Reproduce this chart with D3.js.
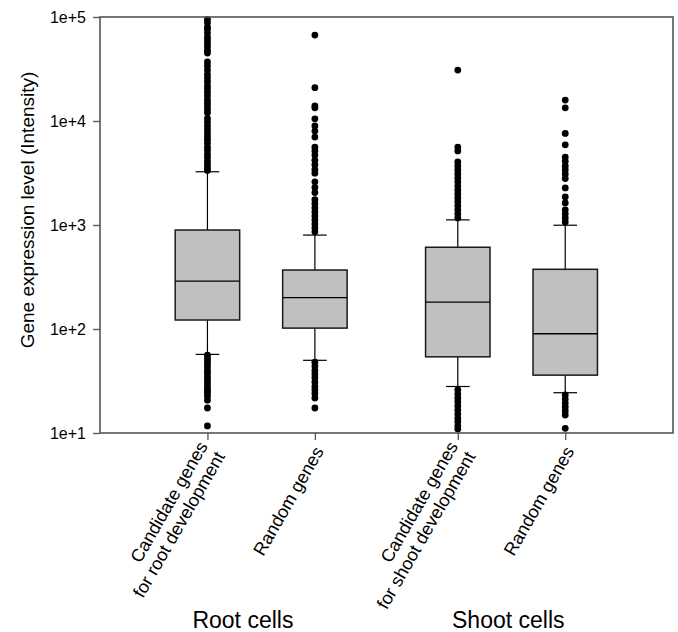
<!DOCTYPE html>
<html>
<head>
<meta charset="utf-8">
<script src="https://cdn.jsdelivr.net/npm/d3@7"></script>
<style>
  body { margin: 0; background: #fff; }
  text { font-family: Arial, "Liberation Sans", sans-serif; }
</style>
</head>
<body>
<div class="app"></div>
<script>
// Data
const categories = [
  ["Candidate genes", "for root development"],
  ["Random genes"],
  ["Candidate genes", "for shoot development"],
  ["Random genes"]
];
const positions = [1, 2, 3.33, 4.33];
const groups = ["Root cells", "Shoot cells"];
const groupX = [1.33, 3.8];
const tickValues = [1e1, 1e2, 1e3, 1e4, 1e5];

const q1 = [122, 102, 54, 36];
const medians = [289, 200, 181, 90];
const q3 = [895, 369, 611, 375];
const whiskerLow = [57, 50, 28, 24.4];
const whiskerHigh = [3250, 800, 1120, 995];

const outliersRootCand = [95000, 88000, 80000, 76000, 70000, 64000, 60000, 56000, 52000, 48000, 45000,
  37000, 34000, 31000, 28000, 26000, 24000, 22000, 20500, 19000, 17500, 16000, 15000, 14000, 13000, 12000,
  10600, 9800, 9000, 8300, 7700, 7100, 6600, 6100, 5600, 5200, 4800, 4450, 4100, 3800, 3550, 3350,
  56, 52, 49, 46, 43, 40, 37.5, 35, 33, 31, 29, 27, 25.5, 24, 22.5, 20.7, 17.4, 11.7];
const outliersRootRand = [67000, 20900, 14000, 13400, 10500, 8950, 8000, 7000, 5600, 5150, 4700, 4200,
  3800, 3400, 3150, 2600, 2300, 2050, 1750, 1600, 1460, 1330, 1220, 1120, 1020, 935, 860,
  48, 44, 40, 37, 34, 31, 28, 26, 24, 21.7, 17.4];
const outliersShootCand = [30900, 5620, 5150, 4040, 3700, 3380, 3100, 2830, 2600, 2370, 2170, 1990,
  1820, 1670, 1530, 1400, 1280, 1170,
  26, 23.7, 21.7, 20, 18.2, 16.6, 15.2, 13.9, 12.8, 11.7, 10.9];
const outliersShootRand = [15900, 13400, 7600, 5900, 4500, 4100, 3700, 3400, 3100, 2800, 2270, 1860,
  1630, 1400, 1280, 1170, 1070,
  23.2, 21.2, 19.4, 17.8, 16.3, 14.9, 11.1];
const outliers = [outliersRootCand, outliersRootRand, outliersShootCand, outliersShootRand];

// Setup
const width = 678, height = 632;
const svg = d3.select('.app')
  .append('svg')
  .attr('width', width)
  .attr('height', height);

const x = d3.scaleLinear().domain([0, 5.333]).range([100, 673]);
const y = d3.scaleLog().domain([10, 1e5]).range([433, 17]).clamp(true);

const boxW = x(0.3) - x(0);
const capW = x(0.11) - x(0);

const boxes = positions.map((p, i) => ({
  p, q1: q1[i], med: medians[i], q3: q3[i], lo: whiskerLow[i], hi: whiskerHigh[i], out: outliers[i]
}));

const g = svg.append('g');

// whiskers
const wg = g.append('g').attr('stroke', '#000').attr('stroke-width', 1.2);
boxes.forEach(b => {
  const cx = x(b.p);
  wg.append('line').attr('x1', cx).attr('x2', cx).attr('y1', y(b.q3)).attr('y2', y(b.hi));
  wg.append('line').attr('x1', cx).attr('x2', cx).attr('y1', y(b.q1)).attr('y2', y(b.lo));
  wg.append('line').attr('x1', cx - capW).attr('x2', cx + capW).attr('y1', y(b.hi)).attr('y2', y(b.hi));
  wg.append('line').attr('x1', cx - capW).attr('x2', cx + capW).attr('y1', y(b.lo)).attr('y2', y(b.lo));
});

// outlier points
boxes.forEach(b => {
  g.append('g')
    .selectAll('circle')
    .data(b.out)
    .join('circle')
    .attr('cx', x(b.p))
    .attr('cy', d => y(d))
    .attr('r', 3.4)
    .attr('fill', '#000');
});

// boxes
g.append('g')
  .selectAll('rect')
  .data(boxes)
  .join('rect')
  .attr('x', d => x(d.p) - boxW)
  .attr('width', boxW * 2)
  .attr('y', d => y(d.q3))
  .attr('height', d => y(d.q1) - y(d.q3))
  .attr('fill', '#c0c0c0')
  .attr('stroke', '#1a1a1a')
  .attr('stroke-width', 1.5);

g.append('g')
  .selectAll('line')
  .data(boxes)
  .join('line')
  .attr('x1', d => x(d.p) - boxW)
  .attr('x2', d => x(d.p) + boxW)
  .attr('y1', d => y(d.med))
  .attr('y2', d => y(d.med))
  .attr('stroke', '#000')
  .attr('stroke-width', 1.3);

// frame
svg.append('rect')
  .attr('x', x(0)).attr('y', y(1e5))
  .attr('width', x(5.333) - x(0))
  .attr('height', y(10) - y(1e5))
  .attr('fill', 'none')
  .attr('stroke', '#555')
  .attr('stroke-width', 1.6);

// y axis
const yAxis = svg.append('g')
  .attr('transform', `translate(${x(0)},0)`)
  .call(d3.axisLeft(y).tickValues(tickValues).tickSize(7).tickPadding(7)
    .tickFormat(d => `1e+${Math.round(Math.log10(d))}`));
yAxis.select('.domain').remove();
yAxis.selectAll('line').attr('stroke', '#555').attr('stroke-width', 1.3);
yAxis.selectAll('text').attr('font-size', 16).attr('fill', '#000')
  .style('font-family', 'Arial, "Liberation Sans", sans-serif');

// x axis
const xAxis = svg.append('g')
  .attr('transform', `translate(0,${y(10)})`)
  .call(d3.axisBottom(x).tickValues(positions).tickSize(7).tickFormat(''));
xAxis.select('.domain').remove();
xAxis.selectAll('line').attr('stroke', '#555').attr('stroke-width', 1.3);

// x tick labels
const lab = svg.append('g')
  .selectAll('text')
  .data(positions.map((p, i) => ({ p, lines: categories[i] })))
  .join('text')
  .attr('transform', d => `translate(${x(d.p) + 4},${y(10) + 15}) rotate(-60)`)
  .attr('text-anchor', 'end')
  .attr('font-size', 18)
  .attr('fill', '#000');
lab.each(function (d) {
  const t = d3.select(this);
  const n = d.lines.length;
  d.lines.forEach((l, j) => {
    t.append('tspan')
      .attr('x', 0)
      .attr('y', (j - (n - 1) / 2) * 20)
      .attr('dy', '0.35em')
      .text(l);
  });
});

// group labels
svg.append('g')
  .selectAll('text')
  .data(groups)
  .join('text')
  .attr('x', (d, i) => x(groupX[i]))
  .attr('y', 628)
  .attr('text-anchor', 'middle')
  .attr('font-size', 23)
  .attr('fill', '#000')
  .text(d => d);

// y label
svg.append('text')
  .attr('transform', `translate(34,${210}) rotate(-90)`)
  .attr('text-anchor', 'middle')
  .attr('font-size', 19)
  .attr('fill', '#000')
  .text('Gene expression level (Intensity)');
</script>
</body>
</html>
